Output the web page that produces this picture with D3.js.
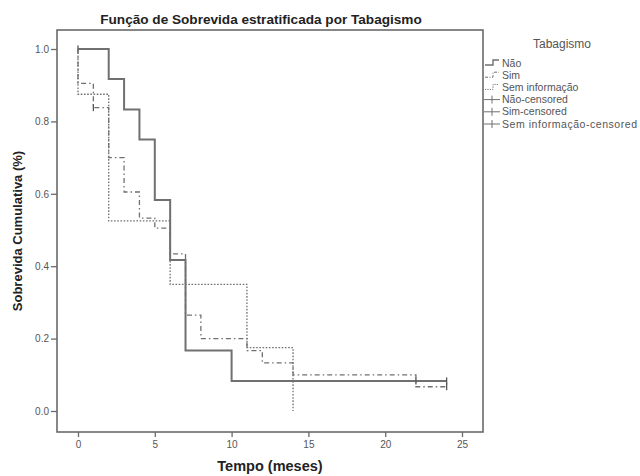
<!DOCTYPE html>
<html>
<head>
<meta charset="utf-8">
<script src="https://cdn.jsdelivr.net/npm/d3@7"></script>
<style>
  body { margin: 0; background: #fff; }
  svg { display: block; font-family: "Liberation Sans", Arial, sans-serif; }
</style>
</head>
<body>
<div id="chart"></div>
<script>
// ---- data (Kaplan-Meier steps) ----
const naoTime = [0, 2, 3, 4, 5, 6, 7, 10, 24];
const naoSurv = [1, 0.917, 0.833, 0.75, 0.583, 0.417, 0.167, 0.083, 0.083];
const naoCensor = [[0, 1], [22, 0.083], [24, 0.083]];

const simTime = [0, 0, 1, 2, 3, 4, 5, 6, 7, 8, 11, 12, 14, 22, 24];
const simSurv = [1, 0.905, 0.838, 0.70, 0.605, 0.533, 0.505, 0.434, 0.265, 0.20, 0.167, 0.133, 0.10, 0.067, 0.067];
const simCensor = [[1, 0.838], [24, 0.067]];

const semTime = [0, 0, 2, 6, 11, 14];
const semSurv = [1, 0.875, 0.525, 0.35, 0.175, 0];
const semCensor = [];

const xTicks = [0, 5, 10, 15, 20, 25];
const yTicks = [0, 0.2, 0.4, 0.6, 0.8, 1.0];
const legendLabels = ["Não", "Sim", "Sem informação", "Não-censored", "Sim-censored", "Sem informação-censored"];

const COLOR = { line: "#707070", frame: "#6a6a6a", text: "#555", title: "#222" };

const width = 640, height = 476;
const frame = { left: 57, right: 483, top: 30, bottom: 432 };

const x = d3.scaleLinear().domain([0, 25]).range([78, 462]);
const y = d3.scaleLinear().domain([0, 1]).range([411, 49]);

const svg = d3.select("#chart").append("svg")
  .attr("width", width).attr("height", height);

// frame
svg.append("rect")
  .attr("x", frame.left).attr("y", frame.top)
  .attr("width", frame.right - frame.left)
  .attr("height", frame.bottom - frame.top)
  .attr("fill", "none").attr("stroke", COLOR.frame).attr("stroke-width", 1.6);

// axes
const yAxis = svg.append("g")
  .attr("transform", `translate(${frame.left},0)`)
  .call(d3.axisLeft(y).tickValues(yTicks).tickFormat(d3.format(".1f")).tickSize(6).tickPadding(2));
const xAxis = svg.append("g")
  .attr("transform", `translate(0,${frame.bottom})`)
  .call(d3.axisBottom(x).tickValues(xTicks).tickSize(5).tickPadding(4));
[xAxis, yAxis].forEach((a) => {
  a.select(".domain").remove();
  a.selectAll("line").attr("stroke", COLOR.frame).attr("stroke-width", 1.3);
  a.selectAll("text").attr("fill", COLOR.text).attr("font-size", 10);
});

// step curves
const step = d3.line().x((d) => x(d[0])).y((d) => y(d[1])).curve(d3.curveStepAfter);
const series = [
  { time: naoTime, surv: naoSurv, censor: naoCensor, dash: null, w: 2 },
  { time: simTime, surv: simSurv, censor: simCensor, dash: "5,3,1.5,3", w: 1.3 },
  { time: semTime, surv: semSurv, censor: semCensor, dash: "1.6,1.6", w: 1.3 },
];

series.forEach((s) => {
  svg.append("path")
    .datum(s.time.map((t, i) => [t, s.surv[i]]))
    .attr("d", step)
    .attr("fill", "none")
    .attr("stroke", COLOR.line)
    .attr("stroke-width", s.w)
    .attr("stroke-dasharray", s.dash);
  // censor marks: short vertical ticks
  svg.append("g").selectAll("line")
    .data(s.censor)
    .join("line")
    .attr("x1", (d) => x(d[0])).attr("x2", (d) => x(d[0]))
    .attr("y1", (d) => y(d[1]) - 3.5).attr("y2", (d) => y(d[1]) + 3.5)
    .attr("stroke", "#555").attr("stroke-width", 1.3);
});

// titles
svg.append("text")
  .attr("x", 261).attr("y", 24)
  .attr("text-anchor", "middle")
  .attr("font-size", 13.6).attr("font-weight", "bold").attr("fill", COLOR.title)
  .text("Função de Sobrevida estratificada por Tabagismo");
svg.append("text")
  .attr("x", 270).attr("y", 471)
  .attr("text-anchor", "middle")
  .attr("font-size", 14.5).attr("font-weight", "bold").attr("fill", COLOR.title)
  .text("Tempo (meses)");
svg.append("text")
  .attr("transform", "rotate(-90)")
  .attr("x", -231).attr("y", 22)
  .attr("text-anchor", "middle")
  .attr("font-size", 13).attr("font-weight", "bold").attr("fill", COLOR.title)
  .text("Sobrevida Cumulativa (%)");

// legend
const lg = svg.append("g");
lg.append("text")
  .attr("x", 562).attr("y", 48)
  .attr("text-anchor", "middle")
  .attr("font-size", 12).attr("fill", COLOR.text)
  .text("Tabagismo");

const itemY = (i) => 63 + i * 12.2;
legendLabels.forEach((label, i) => {
  const cy = itemY(i);
  if (i < 3) {
    lg.append("path")
      .attr("d", `M485,${cy + 2}H493V${cy - 3}H499`)
      .attr("fill", "none").attr("stroke", COLOR.line)
      .attr("stroke-width", i === 0 ? 1.4 : 1)
      .attr("stroke-dasharray", i === 0 ? null : (i === 1 ? "3,1.5,1,1.5" : "1.2,1.2"));
  } else {
    lg.append("line")
      .attr("x1", 484).attr("x2", 500).attr("y1", cy).attr("y2", cy)
      .attr("stroke", COLOR.line).attr("stroke-width", 1);
    lg.append("line")
      .attr("x1", 492).attr("x2", 492).attr("y1", cy - 4).attr("y2", cy + 4)
      .attr("stroke", COLOR.line).attr("stroke-width", 1);
  }
  lg.append("text")
    .attr("x", 502).attr("y", cy + 3.5)
    .attr("font-size", 10.5).attr("fill", COLOR.text)
    .attr("textLength", i === 5 ? 135 : null)
    .text(label);
});
</script>
</body>
</html>
